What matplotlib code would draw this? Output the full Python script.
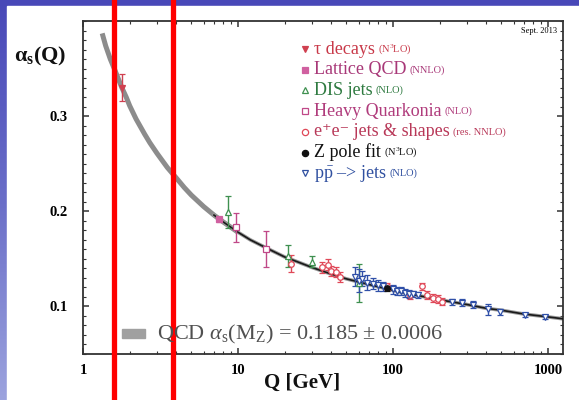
import numpy as np
import matplotlib
matplotlib.use("Agg")
import matplotlib.pyplot as plt
from matplotlib.colors import LinearSegmentedColormap
from matplotlib.patches import Rectangle
from matplotlib.ticker import FixedLocator, MultipleLocator, NullFormatter

plt.rcParams["font.family"] = ["Liberation Serif", "DejaVu Serif"]
plt.rcParams["mathtext.fontset"] = "custom"
plt.rcParams["mathtext.rm"] = "Liberation Serif"
plt.rcParams["mathtext.it"] = "Liberation Serif:italic"
plt.rcParams["mathtext.bf"] = "Liberation Serif:bold"

# running coupling curve
curve_q = [1.33, 1.4, 1.5, 1.6, 1.78, 1.9, 2.0, 2.2, 2.5, 2.7, 3.0, 3.5, 4.0, 4.5,
           5.0, 6.0, 7.0, 8.0, 10, 12, 15, 20, 25, 30, 40, 50, 70, 91.2, 120,
           150, 200, 300, 400, 500, 700, 1000, 1250]
curve_a = [0.387, 0.374, 0.360, 0.349, 0.330, 0.320, 0.311, 0.297, 0.281, 0.272,
           0.261, 0.246, 0.235, 0.225, 0.217, 0.205, 0.196, 0.189, 0.178, 0.170,
           0.162, 0.152, 0.146, 0.141, 0.134, 0.129, 0.123, 0.1185, 0.114, 0.111,
           0.107, 0.102, 0.098, 0.096, 0.092, 0.089, 0.087]

tau_q = [1.777]
tau_a = [0.330]
tau_e = [0.014]

lat_q = [7.5]
lat_a = [0.1915]
lat_e = [0.003]

dis_q = [8.6, 21, 30, 60]
dis_a = [0.199, 0.153, 0.147, 0.125]
dis_e = [0.017, 0.012, 0.006, 0.020]

hq_q = [9.7, 15.2]
hq_a = [0.183, 0.160]
hq_e = [0.015, 0.019]

ee_q = [22, 35, 38, 40, 43, 45.5, 92, 128, 153, 165, 181, 194, 207]
ee_a = [0.145, 0.141, 0.144, 0.137, 0.136, 0.131, 0.121, 0.112, 0.121, 0.112,
        0.109, 0.108, 0.105]
ee_e = [0.009, 0.006, 0.006, 0.005, 0.005, 0.005, 0.004, 0.004, 0.004, 0.004,
        0.004, 0.004, 0.004]

z_q = [91.2]
z_a = [0.1197]
z_e = [0.003]

pp_q = [57, 60, 63, 68, 74, 80, 86, 100, 106, 113, 120, 127, 135, 145,
        240, 280, 330, 410, 490, 710, 960]
pp_a = [0.131, 0.127, 0.129, 0.125, 0.124, 0.122, 0.121, 0.118, 0.116, 0.116,
        0.114, 0.113, 0.113, 0.112, 0.105, 0.104, 0.102, 0.097, 0.094, 0.091, 0.089]
pp_e = [0.010, 0.012, 0.008, 0.008, 0.006, 0.006, 0.005, 0.005, 0.004, 0.004,
        0.004, 0.004, 0.003, 0.003, 0.003, 0.004, 0.004, 0.006, 0.003, 0.002, 0.002]

marked_q = [1.58, 3.81]   # red marker lines

x_ticks = [1, 10, 100, 1000]
x_labels = ["1", "10", "100", "1000"]
y_ticks = [0.1, 0.2, 0.3]
y_labels = ["0.1", "0.2", "0.3"]

W, H = 579, 400
fig = plt.figure(figsize=(W / 100, H / 100), dpi=100)

# blue slide background with white panel
bg = fig.add_axes([0, 0, 1, 1])
cmap = LinearSegmentedColormap.from_list("bg", ["#4848b8", "#6a6ec8", "#9ca3de"])
bg.imshow(np.linspace(0, 1, 256).reshape(-1, 1), cmap=cmap, aspect="auto",
          extent=[0, 1, 0, 1])
bg.add_patch(Rectangle((7 / W, 0), 1, (H - 6) / H, color="white",
                       transform=bg.transAxes))
bg.set_xlim(0, 1)
bg.set_ylim(0, 1)
bg.axis("off")

ax = fig.add_axes([83 / W, 46 / H, 480 / W, 333 / H])
ax.set_facecolor("none")
ax.set_xscale("log")
ax.set_xlim(1, 1250)
ax.set_ylim(0.05, 0.40)

cq = np.array(curve_q)
ca = np.array(curve_a)
low = cq <= 10
high = cq >= 7
ax.plot(cq[low], ca[low], color="#8c8c8c", lw=3.6, solid_capstyle="butt", zorder=2)
ax.plot(cq[high], ca[high], color="#9a9a9a", lw=2.6, zorder=2)
ax.plot(cq[high], ca[high], color="#1a1a1a", lw=1.2, zorder=3)

def series(q, a, e, marker, color, filled):
    ax.errorbar(q, a, yerr=e, fmt=marker, ms=4, color=color, ecolor=color,
                elinewidth=1.0, capsize=2.5, capthick=1.0,
                mfc=color if filled else "white", mec=color, mew=0.9, zorder=4)

series(tau_q, tau_a, tau_e, "v", "#d04050", True)
series(lat_q, lat_a, lat_e, "s", "#d060a0", True)
series(dis_q, dis_a, dis_e, "^", "#3f9050", False)
series(hq_q, hq_a, hq_e, "s", "#c04888", False)
series(ee_q, ee_a, ee_e, "o", "#e04858", False)
series(pp_q, pp_a, pp_e, "v", "#3050a8", False)
series(z_q, z_a, z_e, "o", "#111111", True)

for q in marked_q:
    ax.axvline(q, ymin=-0.14, ymax=1.07, clip_on=False, color="#ff0000",
               lw=3.8, zorder=6)

for s in ax.spines.values():
    s.set_color("#333333")
    s.set_linewidth(1.3)

ax.xaxis.set_major_locator(FixedLocator(x_ticks))
ax.set_xticklabels(x_labels)
ax.xaxis.set_minor_formatter(NullFormatter())
ax.yaxis.set_major_locator(FixedLocator(y_ticks))
ax.set_yticklabels(y_labels)
ax.yaxis.set_minor_locator(MultipleLocator(0.01))
ax.tick_params(which="both", direction="in", top=True, right=True,
               color="#333333", labelsize=10.5)
ax.tick_params(axis="y", pad=11)
ax.tick_params(axis="x", pad=7)
ax.tick_params(which="major", length=4, width=1.1)
ax.tick_params(which="minor", length=2, width=0.8)
for lab in ax.get_xticklabels() + ax.get_yticklabels():
    lab.set_fontweight("bold")

def px(x, y):
    return x / W, 1 - y / H

fig.text(*px(14, 56), r"$\mathbf{\alpha}_\mathbf{s}\mathbf{(Q)}$", fontsize=16,
         va="center", ha="left", color="#111111")
fig.text(*px(302, 383), "Q [GeV]", fontsize=15, fontweight="bold",
         ha="center", va="center", color="#111111")
fig.text(*px(557, 31), "Sept. 2013", fontsize=6, ha="right", va="center")

# legend
legend = [
    ("v", "#d04050", True, "τ decays", r"(N$^3$LO)", "#c83848"),
    ("s", "#d060a0", True, "Lattice QCD", "(NNLO)", "#a83878"),
    ("^", "#3f9050", False, "DIS jets", "(NLO)", "#2e7a40"),
    ("s", "#c04888", False, "Heavy Quarkonia", "(NLO)", "#b03c7c"),
    ("o", "#e04858", False, "e⁺e⁻ jets & shapes", "(res. NNLO)", "#b83858"),
    ("o", "#111111", True, "Z pole fit", r"(N$^3$LO)", "#111111"),
    ("v", "#3050a0", False, r"p$\bar{\mathrm{p}}$ –> jets", "(NLO)", "#3050a0"),
]
for i, (m, mc, filled, main, sub, tc) in enumerate(legend):
    y = 49 + i * 20.7
    fig.lines.append(plt.Line2D([305 / W], [1 - y / H], marker=m, ms=4.5,
                                color=mc, mfc=mc if filled else "white",
                                mec=mc, mew=0.9, transform=fig.transFigure))
    t = fig.text(*px(314, y), main, fontsize=13, color=tc, va="center")
    fig.canvas.draw()
    bb = t.get_window_extent()
    fig.text((bb.x1 + 3) / W, 1 - y / H, sub, fontsize=7.5, color=tc, va="center")

# QCD band label
fig.patches.append(Rectangle((122 / W, 1 - 338 / H), 23 / W, 9 / H,
                             color="#a0a0a0", transform=fig.transFigure))
fig.text(*px(157, 334), r"QCD $\alpha_\mathrm{s}$(M$_\mathrm{Z}$) = 0.1185 ± 0.0006",
         fontsize=16, color="#505050", va="center")

fig.savefig("out.png", dpi=100)
